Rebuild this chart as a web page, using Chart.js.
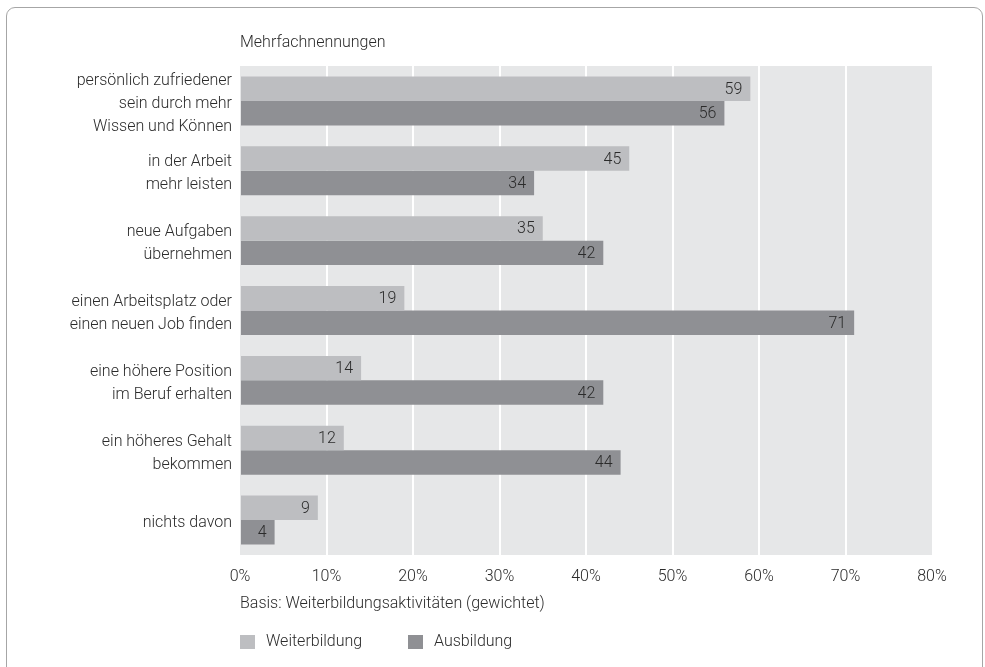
<!DOCTYPE html>
<html lang="de">
<head>
<meta charset="utf-8">
<title>Gründe für Weiterbildung</title>
<script src="https://cdn.jsdelivr.net/npm/chart.js@4.4.1/dist/chart.umd.min.js"></script>
<style>
    html, body { margin: 0; padding: 0; background: #fff; overflow: hidden; }
    #card {
        position: absolute; left: 6px; top: 7px; width: 977px; height: 720px;
        border: 1.5px solid #a6a6a6; border-radius: 9px; box-sizing: border-box;
    }
    #wrap { position: absolute; left: 0; top: 0; width: 985px; height: 667px; }
</style>
</head>
<body>
<div id="card"></div>
<div id="wrap"><canvas id="chart"></canvas></div>
<script>
// --- Daten ---
const categories = [
    ['persönlich zufriedener', 'sein durch mehr', 'Wissen und Können'],
    ['in der Arbeit', 'mehr leisten'],
    ['neue Aufgaben', 'übernehmen'],
    ['einen Arbeitsplatz oder', 'einen neuen Job finden'],
    ['eine höhere Position', 'im Beruf erhalten'],
    ['ein höheres Gehalt', 'bekommen'],
    'nichts davon'
];
const weiterbildung = [59, 45, 35, 19, 14, 12, 9];
const ausbildung = [56, 34, 42, 71, 42, 44, 4];
const xTicks = [0, 10, 20, 30, 40, 50, 60, 70, 80];

const seriesNames = ['Weiterbildung', 'Ausbildung'];
const subtitle = 'Mehrfachnennungen';
const basisNote = 'Basis: Weiterbildungsaktivitäten (gewichtet)';

// --- Farben / Schrift ---
const colors = { light: '#bdbec1', dark: '#8f9094', plot: '#e6e7e8', text: '#2b2b2b' };
const fontFamily = 'Roboto, "Noto Sans", sans-serif';
const fontSize = 16;

// grauer Hintergrund hinter dem Diagrammbereich
const plotBackground = {
    id: 'plotBackground',
    beforeDraw(chart) {
        const { ctx, chartArea: a } = chart;
        ctx.save();
        ctx.fillStyle = colors.plot;
        ctx.fillRect(a.left, a.top, a.right - a.left, a.bottom - a.top);
        ctx.restore();
    }
};

// Werte am Balkenende, Untertitel, Basis-Hinweis und Legende
const annotations = {
    id: 'annotations',
    afterDraw(chart) {
        const { ctx, chartArea: a } = chart;
        ctx.save();
        ctx.font = `300 ${fontSize}px ${fontFamily}`;
        ctx.fillStyle = colors.text;
        ctx.textBaseline = 'middle';

        // Werte
        ctx.textAlign = 'right';
        chart.data.datasets.forEach((ds, i) => {
            chart.getDatasetMeta(i).data.forEach((bar, j) => {
                ctx.fillText(String(ds.data[j]), bar.x - 8, bar.y + 1);
            });
        });

        ctx.textAlign = 'left';
        ctx.fillText(subtitle, a.left, 43);
        ctx.fillText(basisNote, a.left, a.bottom + 49);

        // Legende
        let x = a.left;
        const y = a.bottom + 87;
        chart.data.datasets.forEach((ds, i) => {
            ctx.fillStyle = ds.backgroundColor;
            ctx.fillRect(x, y - 7, 15, 14);
            ctx.fillStyle = colors.text;
            ctx.fillText(seriesNames[i], x + 26, y);
            x += 168;
        });
        ctx.restore();
    }
};

new Chart(document.getElementById('chart'), {
    type: 'bar',
    data: {
        labels: categories,
        datasets: [
            { label: seriesNames[0], data: weiterbildung, backgroundColor: colors.light },
            { label: seriesNames[1], data: ausbildung, backgroundColor: colors.dark }
        ]
    },
    options: {
        indexAxis: 'y',
        responsive: true,
        maintainAspectRatio: false,
        animation: false,
        layout: { padding: { top: 66, right: 53, left: 10, bottom: 0 } },
        datasets: { bar: { categoryPercentage: 0.7, barPercentage: 1.0 } },
        scales: {
            x: {
                min: 0, max: 80,
                afterBuildTicks(scale) { scale.ticks = xTicks.map(v => ({ value: v })); },
                afterFit(scale) { scale.height = 112; },
                border: { display: false },
                grid: {
                    color: ctx => (ctx.tick && (ctx.tick.value === 0 || ctx.tick.value === 80)) ? 'rgba(0,0,0,0)' : '#ffffff',
                    lineWidth: 2,
                    drawTicks: false
                },
                ticks: {
                    padding: 12,
                    color: colors.text,
                    font: { family: fontFamily, size: fontSize, weight: 300 },
                    callback: v => v + '%'
                }
            },
            y: {
                afterFit(scale) { scale.width = 230; },
                border: { display: false },
                grid: { display: false, drawTicks: false },
                ticks: {
                    autoSkip: false,
                    padding: 8,
                    labelOffset: 3,
                    color: colors.text,
                    font: { family: fontFamily, size: fontSize, weight: 300, lineHeight: 1.45 }
                }
            }
        },
        plugins: {
            legend: { display: false },
            tooltip: { enabled: false }
        }
    },
    plugins: [plotBackground, annotations]
});
</script>
</body>
</html>
